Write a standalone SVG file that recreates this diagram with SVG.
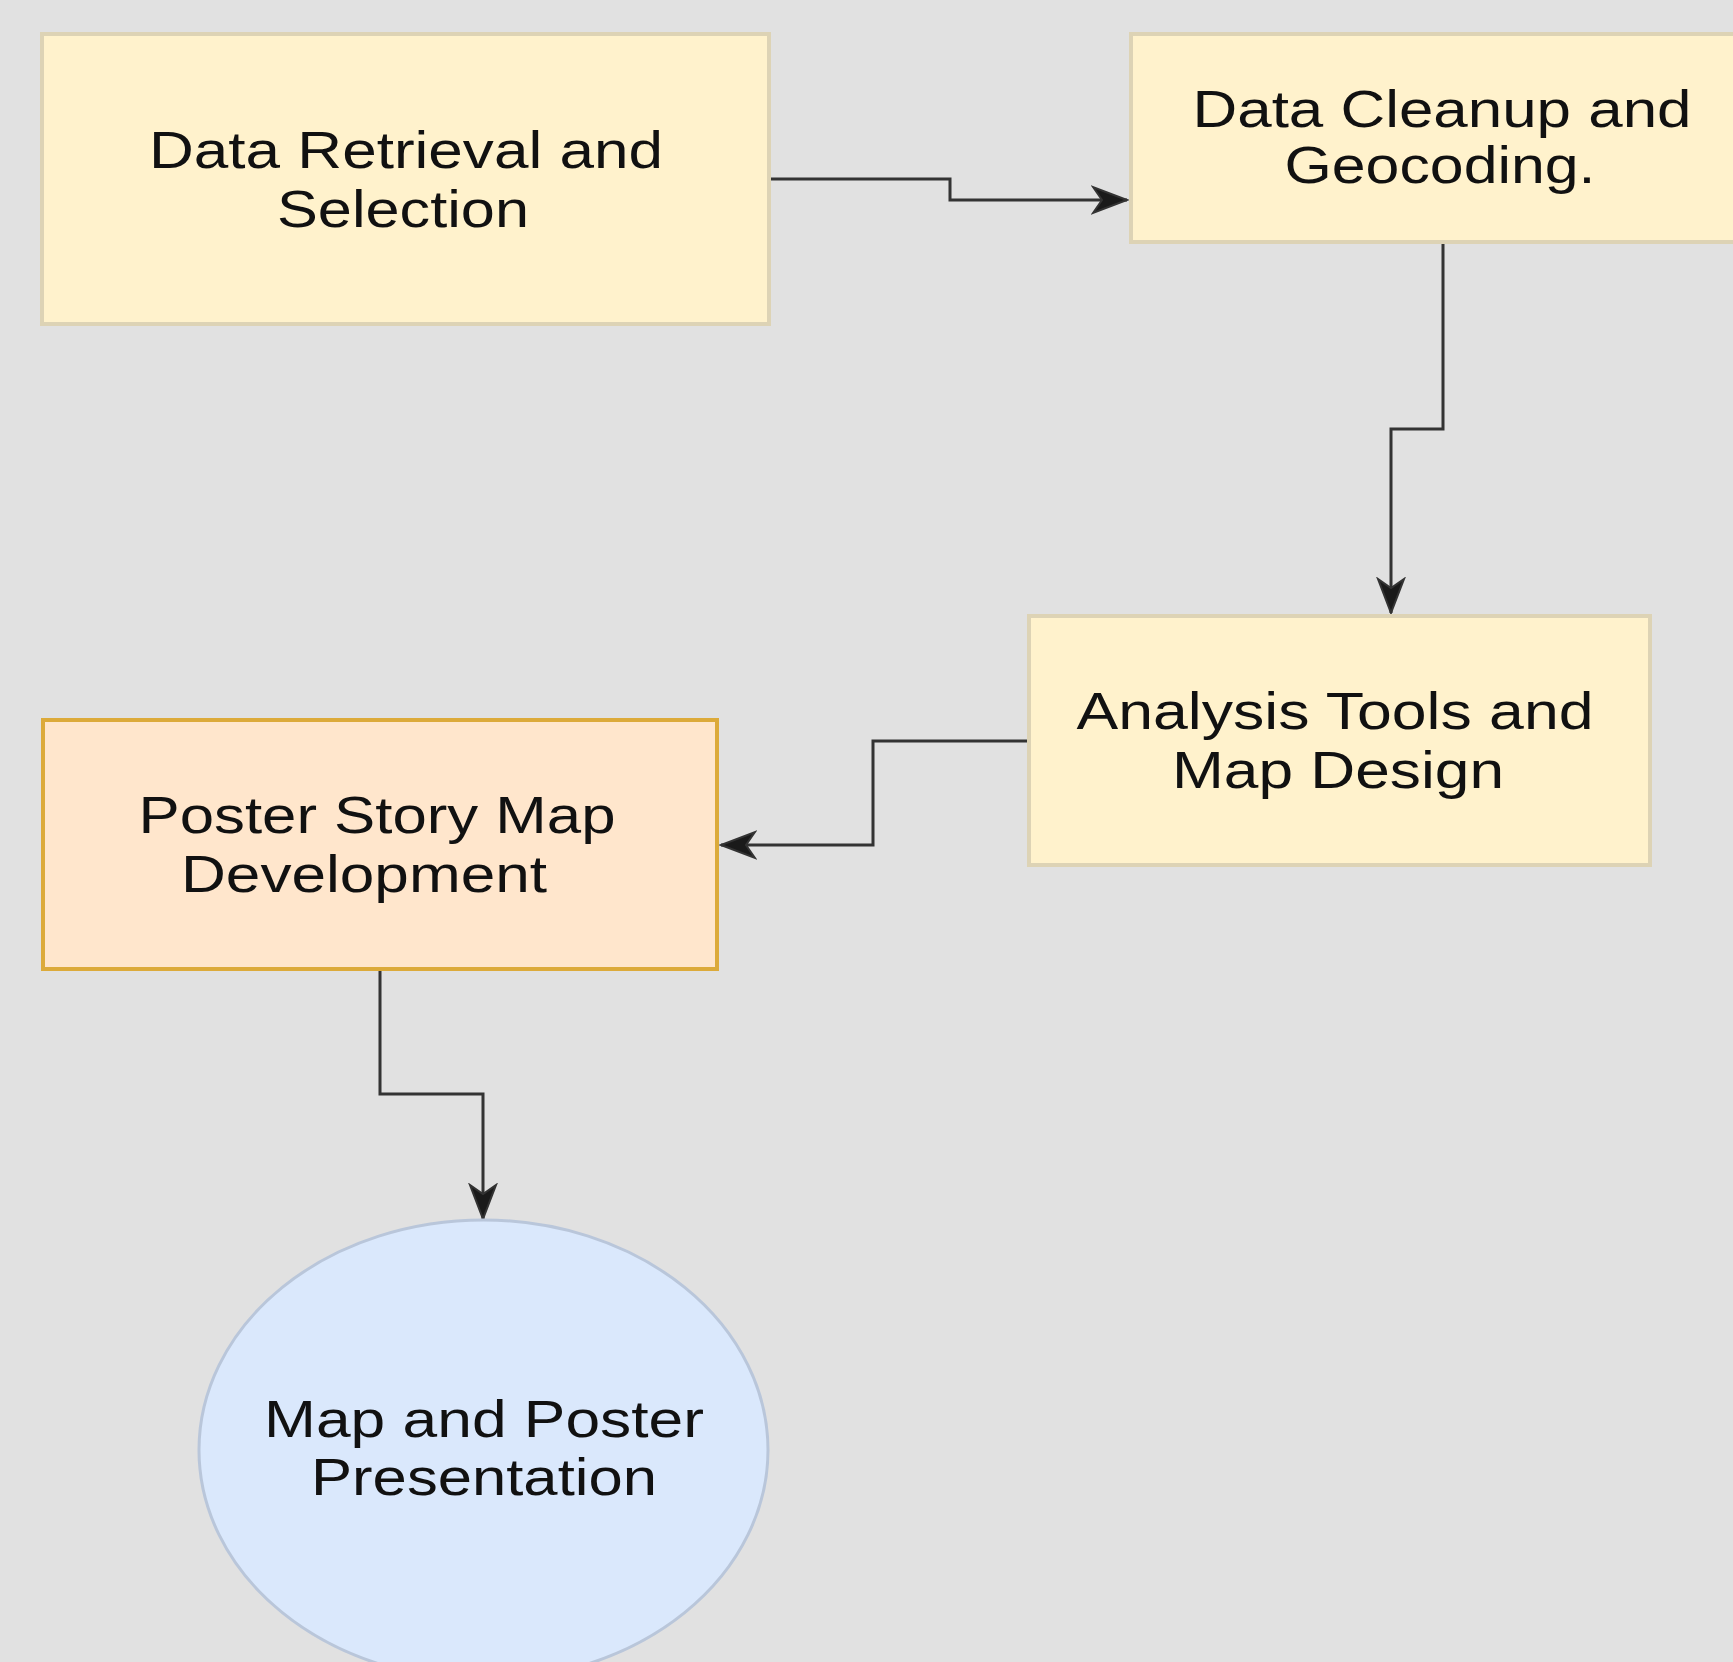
<svg xmlns="http://www.w3.org/2000/svg" width="1733" height="1662" viewBox="0 0 1733 1662">
<style>
.bg{fill:#e1e1e1}
.box{fill:#fff2cc;stroke:#ddd3b5;stroke-width:4}
.box2{fill:#ffe6cc;stroke:#dcaa3a;stroke-width:4}
.ell{fill:#dae8fc;stroke:#b9c6da;stroke-width:3}
.t{font-family:"Liberation Sans",Arial,sans-serif;font-size:52px;fill:#111;text-anchor:middle}
.c{fill:none;stroke:#333;stroke-width:3}
</style>
<defs>
<marker id="arr" markerUnits="userSpaceOnUse" markerWidth="40" markerHeight="32" viewBox="0 0 40 32" refX="36" refY="16" orient="auto">
<path d="M36,16 L2,3 L11,16 L2,29 Z" fill="#1a1a1a" stroke="#333" stroke-width="2" stroke-linejoin="miter"/>
</marker>
</defs>
<rect class="bg" x="0" y="0" width="1733" height="1662"/>
<g id="connectors">
<path class="c" d="M771,179 H950 V200 H1127" marker-end="url(#arr)"/>
<path class="c" d="M1443,244 V429 H1391 V613" marker-end="url(#arr)"/>
<path class="c" d="M1027,741 H873 V845 H721" marker-end="url(#arr)"/>
<path class="c" d="M380,971 V1094 H483 V1219" marker-end="url(#arr)"/>
</g>
<g id="node-retrieval">
<rect class="box" x="42" y="34" width="727" height="290"/>
<text class="t" x="406" y="168" textLength="514" lengthAdjust="spacingAndGlyphs">Data Retrieval and</text>
<text class="t" x="403" y="227" textLength="252" lengthAdjust="spacingAndGlyphs">Selection</text>
</g>
<g id="node-cleanup">
<rect class="box" x="1131" y="34" width="624" height="208"/>
<text class="t" x="1442" y="127" textLength="499" lengthAdjust="spacingAndGlyphs">Data Cleanup and</text>
<text class="t" x="1440" y="183" textLength="311" lengthAdjust="spacingAndGlyphs">Geocoding.</text>
</g>
<g id="node-analysis">
<rect class="box" x="1029" y="616" width="621" height="249"/>
<text class="t" x="1335" y="729" textLength="517" lengthAdjust="spacingAndGlyphs">Analysis Tools and</text>
<text class="t" x="1338" y="788" textLength="332" lengthAdjust="spacingAndGlyphs">Map Design</text>
</g>
<g id="node-poster">
<rect class="box2" x="43" y="720" width="674" height="249"/>
<text class="t" x="377" y="833" textLength="477" lengthAdjust="spacingAndGlyphs">Poster Story Map</text>
<text class="t" x="364" y="892" textLength="366" lengthAdjust="spacingAndGlyphs">Development</text>
</g>
<g id="node-presentation">
<ellipse class="ell" cx="483.5" cy="1450" rx="284.5" ry="230"/>
<text class="t" x="484" y="1437" textLength="440" lengthAdjust="spacingAndGlyphs">Map and Poster</text>
<text class="t" x="484" y="1495" textLength="346" lengthAdjust="spacingAndGlyphs">Presentation</text>
</g>
</svg>
